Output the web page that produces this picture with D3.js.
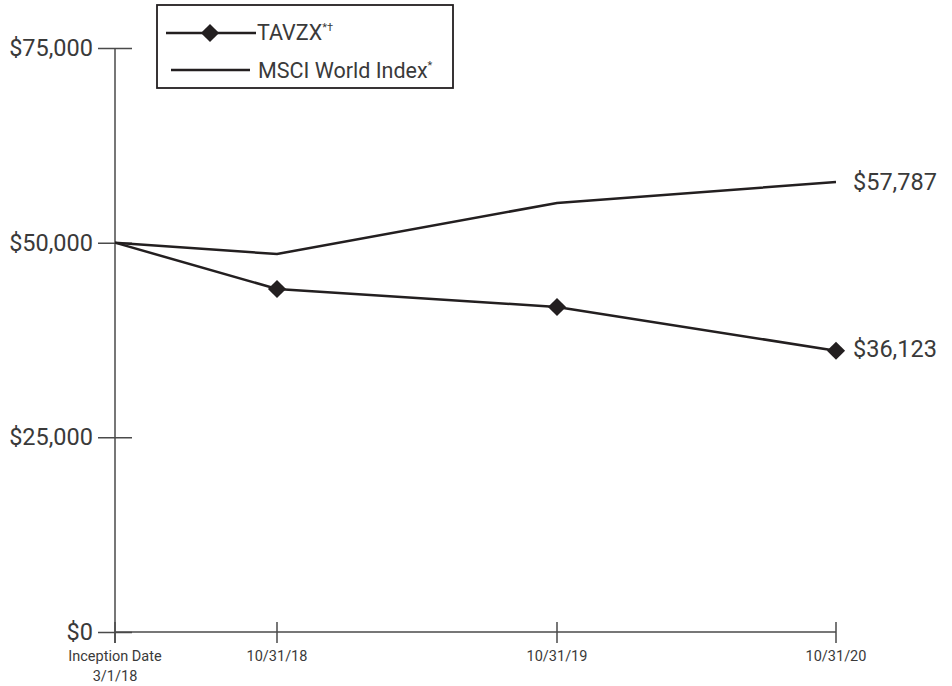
<!DOCTYPE html>
<html><head><meta charset="utf-8">
<script src="https://cdn.jsdelivr.net/npm/d3@7"></script>
<style>
html,body{margin:0;padding:0;background:#fff;}
svg{display:block;font-family:Roboto, "Liberation Sans", sans-serif;font-weight:400;}
</style></head>
<body><svg id="chart" width="952" height="686"></svg>
<script>
const dates = ["3/1/18", "10/31/18", "10/31/19", "10/31/20"];
const xTickLabels = [["Inception Date", "3/1/18"], ["10/31/18"], ["10/31/19"], ["10/31/20"]];
const tavzx = [50000, 44050, 41740, 36123];
const msci = [50000, 48540, 55100, 57787];
const yTicks = [0, 25000, 50000, 75000];
const seriesNames = ["TAVZX", "MSCI World Index"];
const seriesSup = ["*\u2020", "*"];
const endLabels = ["$36,123", "$57,787"];

const ink = "#231f20";
const txt = "#3a3a3a";
const axisCol = "#4a4a4a";
const svg = d3.select("#chart");

const x = d3.scaleOrdinal().domain(dates).range([115, 277, 557, 836]);
const y = d3.scaleLinear().domain([0, 75000]).range([632, 48]);

// Y axis
const yAxis = d3.axisLeft(y).tickValues(yTicks).tickFormat(d => "$" + d3.format(",")(d)).tickSize(17).tickPadding(5);
const gy = svg.append("g").attr("transform", "translate(115,0)").call(yAxis);
gy.select(".domain").remove();
gy.selectAll(".tick line").attr("x1", -17).attr("x2", 17).attr("stroke", axisCol).attr("stroke-width", 1.5);
gy.selectAll(".tick text").attr("x", -22).attr("font-size", 23.5).attr("fill", txt)
  .attr("font-family", "Roboto").attr("font-weight", 400);
gy.append("line").attr("x1", 0).attr("x2", 0).attr("y1", y(75000)).attr("y2", y(0) + 11)
  .attr("stroke", axisCol).attr("stroke-width", 1.5);

// X axis
const gx = svg.append("g");
gx.append("line").attr("x1", 115).attr("x2", x(dates[3])).attr("y1", y(0)).attr("y2", y(0))
  .attr("stroke", axisCol).attr("stroke-width", 1.5);
const xt = gx.selectAll("g.xt").data(dates).join("g").attr("class", "xt")
  .attr("transform", d => `translate(${x(d)},${y(0)})`);
xt.append("line").attr("y1", -10).attr("y2", 11).attr("stroke", axisCol).attr("stroke-width", 1.5);
xt.append("text").attr("text-anchor", "middle").attr("font-size", 14.5).attr("fill", txt)
  .selectAll("tspan").data((d, i) => xTickLabels[i]).join("tspan")
  .attr("x", 0).attr("y", (d, j) => 29 + j * 20).text(d => d);

// Lines
const line = d3.line().x((d, i) => x(dates[i])).y(d => y(d));
svg.append("path").datum(msci).attr("d", line).attr("fill", "none").attr("stroke", ink).attr("stroke-width", 2.5);
svg.append("path").datum(tavzx).attr("d", line).attr("fill", "none").attr("stroke", ink).attr("stroke-width", 2.5);

const diamond = d3.symbol().type(d3.symbolDiamond2).size(210);
svg.selectAll("path.mk").data(tavzx.slice(1)).join("path").attr("class", "mk")
  .attr("d", diamond)
  .attr("transform", (d, i) => `translate(${x(dates[i + 1])},${y(d)})`)
  .attr("fill", ink);

// End labels
const endVals = [tavzx[3], msci[3]];
svg.selectAll("text.end").data(endVals).join("text").attr("class", "end")
  .attr("x", x(dates[3]) + 17).attr("y", (d, i) => y(d) + (i === 0 ? 6 : 8))
  .attr("font-size", 23.5).attr("fill", txt).text((d, i) => endLabels[i]);

// Legend
const lg = svg.append("g");
lg.append("rect").attr("x", 157).attr("y", 5).attr("width", 296).attr("height", 83)
  .attr("fill", "#fff").attr("stroke", ink).attr("stroke-width", 1.8);
lg.append("line").attr("x1", 166).attr("x2", 256).attr("y1", 33).attr("y2", 33).attr("stroke", ink).attr("stroke-width", 2.5);
lg.append("path").attr("d", diamond).attr("transform", "translate(210,33)").attr("fill", ink);
lg.append("line").attr("x1", 171).attr("x2", 250).attr("y1", 70).attr("y2", 70).attr("stroke", ink).attr("stroke-width", 2.5);
const lt = lg.selectAll("text.lg").data(seriesNames).join("text").attr("class", "lg")
  .attr("x", (d, i) => i === 0 ? 257 : 258).attr("y", (d, i) => i === 0 ? 40 : 78)
  .attr("font-size", 21.5).attr("fill", txt);
lt.append("tspan").text(d => d);
lt.append("tspan").attr("font-size", 11).attr("dy", -9).text((d, i) => seriesSup[i]);
</script></body></html>
